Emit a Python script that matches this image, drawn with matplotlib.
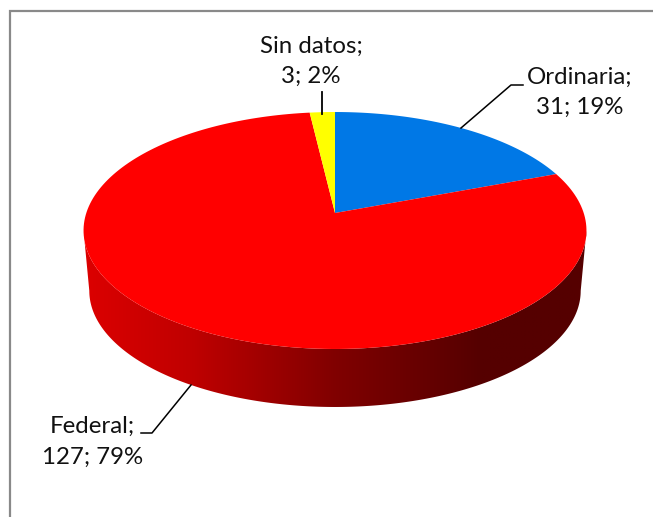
import numpy as np
import matplotlib
matplotlib.use('Agg')
import matplotlib.pyplot as plt
from matplotlib.colors import LinearSegmentedColormap
from matplotlib.patches import Polygon

# Data
labels = ['Ordinaria', 'Federal', 'Sin datos']
values = [31, 127, 3]
percents = [19, 79, 2]
colors = ['#0078E6', '#FF0000', '#FFFF00']

plt.rcParams['font.family'] = ['Lato', 'DejaVu Sans']

# perspective of the pie, in pixels
CX = 335
TOP_Y = 213
BOTTOM_Y = 273.7
P = 0.1477


def project(angle, cy, w, h):
    # angle in radians, clockwise from 12 o'clock
    d = 1 + P * np.cos(angle)
    return CX + w * np.sin(angle) / d, cy - h * np.cos(angle) / d


def top_rim(angle):
    return project(angle, TOP_Y, 248.7, 115.9)


def bottom_rim(angle):
    return project(angle, BOTTOM_Y, 243.0, 113.6)


fig = plt.figure(figsize=(6.53, 5.17), dpi=100)
ax = fig.add_axes([0, 0, 1, 1])
ax.axis('off')

# frame, only top and left fall inside the picture
ax.plot([10, 10, 653], [517, 11, 11], color='#898989', lw=1.6, solid_joinstyle='miter')

# side of the pie with the dark gradient
edge = np.arccos(-P)
front = np.linspace(edge, 2 * np.pi - edge, 300)
tx, ty = top_rim(front)
bx, by = bottom_rim(front)
side = Polygon(np.r_[np.c_[tx, ty], np.c_[bx, by][::-1]], closed=True, fc='none', ec='none')
ax.add_patch(side)
shade = LinearSegmentedColormap.from_list('shade', [
    (0.0, '#550000'), (0.21, '#550000'), (0.5, '#800000'), (0.79, '#C00000'), (1.0, '#DC0000')])
img = ax.imshow(np.linspace(0, 1, 256)[None, :], extent=[587, 84, 410, 225], cmap=shade,
                aspect='auto', interpolation='bilinear', zorder=1)
img.set_clip_path(side)
ax.set_xlim(0, 653)
ax.set_ylim(517, 0)

# top of the pie
shares = np.array(values) / sum(values) * 2 * np.pi
start = 0
for share, color in zip(shares, colors):
    a = np.linspace(start, start + share, 200)
    x, y = top_rim(a)
    pts = np.r_[[[CX, TOP_Y]], np.c_[x, y]]
    ax.add_patch(Polygon(pts, closed=True, fc=color, ec='none', zorder=2))
    start += share

# leader lines
ax.plot([322, 322], [92, 114], color='black', lw=1.3, zorder=3)
ax.plot([461, 511, 523], [128, 85, 85], color='black', lw=1.1, zorder=3)
ax.plot([191, 152, 141], [385, 433, 433], color='black', lw=1.1, zorder=3)

# labels
label_pos = [(579.5, 92.5), (92.5, 442), (311, 61.5)]
for name, val, pct, (lx, ly) in zip(labels, values, percents, label_pos):
    ax.text(lx, ly, f'{name};\n{val}; {pct}%', ha='center', va='center', fontsize=17.3,
            color='#111111', linespacing=1.55, zorder=4)

plt.savefig('out.png', dpi=100)
